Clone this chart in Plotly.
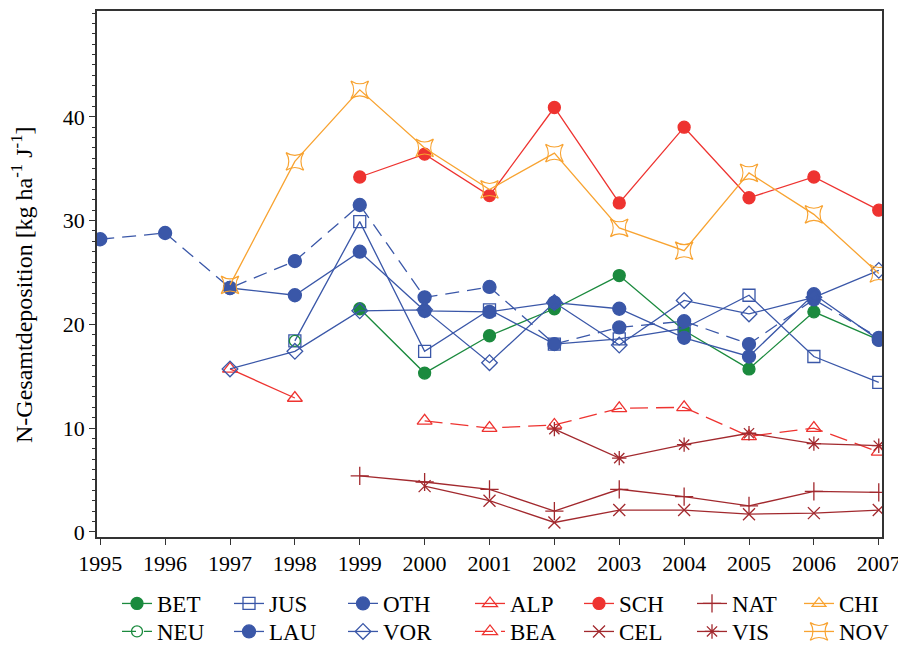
import plotly.graph_objects as go

years = list(range(1995, 2008))

BET = [None, None, None, None, 21.5, 15.3, 18.9, 21.5, 24.7, 19.4, 15.7, 21.2, 18.5]
JUS = [None, None, None, 18.4, 29.9, 17.4, 21.4, 18.1, 18.6, 19.6, 22.8, 16.9, 14.4]
OTH = [28.2, 28.8, 23.5, 26.1, 31.5, 22.6, 23.6, 18.1, 19.7, 20.3, 18.1, 22.4, 18.7]
ALP = [None, None, 15.7, 12.9, None, None, None, None, None, None, None, None, None]
SCH = [None, None, None, None, 34.2, 36.4, 32.4, 40.9, 31.7, 39.0, 32.2, 34.2, 31.0]
NAT = [None, None, None, None, 5.4, 4.8, 4.1, 2.0, 4.1, 3.4, 2.5, 3.9, 3.8]
CHI = [None] * 13
NEU = [None, None, None, 18.4, None, None, None, None, None, None, None, None, None]
LAU = [None, None, 23.5, 22.8, 27.0, 21.3, 21.2, 22.1, 21.5, 18.7, 16.9, 22.9, 18.5]
VOR = [None, None, 15.7, 17.4, 21.3, 21.4, 16.3, 22.1, 18.0, 22.3, 21.0, 22.6, 25.2]
BEA = [None, None, None, None, None, 10.7, 10.0, 10.3, 11.9, 12.0, 9.2, 10.0, 7.7]
CEL = [None, None, None, None, None, 4.4, 3.0, 0.9, 2.1, 2.1, 1.7, 1.8, 2.1]
VIS = [None, None, None, None, None, None, None, 9.9, 7.1, 8.4, 9.5, 8.5, 8.3]
NOV = [None, None, 23.8, 35.7, 42.6, 37.0, 33.0, 36.5, 29.3, 27.1, 34.6, 30.6, 24.9]

GREEN = "#1b8a3e"
BLUE = "#3a57a8"
RED = "#ee3330"
DRED = "#a2292e"
ORANGE = "#f8a331"

FONT = "'Liberation Serif', 'Times New Roman', 'DejaVu Serif', serif"

# (name, values, colour, dash, symbol, size, legend column, legend row)
series = [
    ("BET", BET, GREEN, "solid", "circle", 12, 0, 0),
    ("JUS", JUS, BLUE, "solid", "square-open", 12, 1, 0),
    ("OTH", OTH, BLUE, "14px,8px", "circle", 13, 2, 0),
    ("ALP", ALP, RED, "solid", "triangle-up-open", 13, 3, 0),
    ("SCH", SCH, RED, "solid", "circle", 12, 4, 0),
    ("NAT", NAT, DRED, "solid", "cross-thin-open", 13, 5, 0),
    ("CHI", CHI, ORANGE, "solid", "triangle-up-open", 12, 6, 0),
    ("NEU", NEU, GREEN, "14px,8px", "circle-open", 11, 0, 1),
    ("LAU", LAU, BLUE, "solid", "circle", 13, 1, 1),
    ("VOR", VOR, BLUE, "solid", "diamond-open", 12, 2, 1),
    ("BEA", BEA, RED, "18px,8px", "triangle-up-open", 13, 3, 1),
    ("CEL", CEL, DRED, "solid", "x-thin-open", 12, 4, 1),
    ("VIS", VIS, DRED, "solid", "asterisk-open", 12, 5, 1),
    ("NOV", NOV, ORANGE, "solid", "star-square-open", 16, 6, 1),
]

PL, PR, PT, PB = 97, 16, 11, 109
W, H = 898, 646
pw = W - PL - PR
ph = H - PT - PB

text_starts = [158, 270, 384, 511, 620, 733, 840]
row_tops = [582, 610]

fig = go.Figure()
legends = {}
for k, (name, vals, color, dash, sym, size, col, row) in enumerate(series, start=1):
    key = "legend" if k == 1 else f"legend{k}"
    if all(v is None for v in vals):
        xs, ys = [None], [None]
    else:
        xs, ys = years, vals
    fig.add_trace(go.Scatter(
        x=xs, y=ys, name=name, mode="lines+markers",
        connectgaps=False, legend=key,
        line=dict(color=color, width=1.3, dash=dash),
        marker=dict(symbol=sym, size=size, color=color,
                    line=dict(color=color, width=1.3)),
    ))
    legends[key] = dict(
        orientation="v",
        x=(text_starts[col] - 41 - PL) / pw, xanchor="left",
        y=-(row_tops[row] - (PT + ph)) / ph, yanchor="top",
        font=dict(family=FONT, size=23, color="black"),
        tracegroupgap=0, itemsizing="trace", bgcolor="rgba(0,0,0,0)",
    )

fig.update_layout(
    width=W, height=H,
    margin=dict(l=PL, r=PR, t=PT, b=PB, autoexpand=False),
    paper_bgcolor="white", plot_bgcolor="white",
    font=dict(family=FONT, size=22, color="black"),
    showlegend=True,
    **legends,
    xaxis=dict(
        range=[1994.95, 2007.05], tickmode="array", tickvals=years,
        ticktext=[str(y) for y in years],
        showgrid=False, zeroline=False, automargin=False,
        showline=True, linecolor="#333", linewidth=1.5, mirror=True,
        ticks="outside", ticklen=6, tickcolor="#333",
        ticklabeloverflow="allow",
        tickfont=dict(family=FONT, size=22, color="black"),
    ),
    yaxis=dict(
        range=[-0.5, 50.2], tickvals=[0, 10, 20, 30, 40],
        showgrid=False, zeroline=False, automargin=False,
        showline=True, linecolor="#333", linewidth=1.5, mirror=True,
        ticks="outside", ticklen=6, tickcolor="#333",
        minor=dict(dtick=1, ticks="outside", ticklen=3, tickcolor="#333", showgrid=False),
        tickfont=dict(family=FONT, size=22, color="black"),
    ),
    annotations=[dict(
        text="N-Gesamtdeposition [kg ha<sup>-1</sup> J<sup>-1</sup>]",
        xref="paper", yref="paper",
        x=(22 - PL) / pw, y=(PT + ph - 285) / ph,
        xanchor="center", yanchor="middle", textangle=-90, showarrow=False,
        font=dict(family=FONT, size=24, color="black"),
    )],
)

fig.write_html("out.html", config={"displayModeBar": False},
               post_script="document.body.style.margin='0';")
